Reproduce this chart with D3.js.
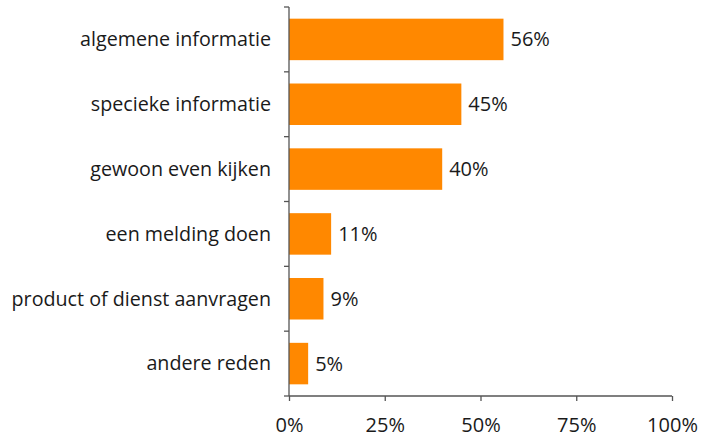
<!DOCTYPE html>
<html lang="en">
<head>
    <meta charset="UTF-8">
    <script src="https://cdn.jsdelivr.net/npm/d3@7"></script>
    <title>Redenen bezoek</title>
    <style>
        body { margin: 0; background: #fff; }
        svg text { font-family: "Open Sans", sans-serif; fill: #1a1a1a; }
        .axis path, .axis line { stroke: #555; stroke-width: 1.3px; }
    </style>
</head>
<body>
    <div id="chart"></div>
    <script>
        const categories = ["algemene informatie", "specieke informatie", "gewoon even kijken",
            "een melding doen", "product of dienst aanvragen", "andere reden"];
        const values = [56, 45, 40, 11, 9, 5];
        const tickValues = [0, 25, 50, 75, 100];

        const width = 701, height = 438;
        const margin = { top: 7, right: 29, bottom: 42, left: 289 };

        const svg = d3.select("#chart").append("svg")
            .attr("width", width)
            .attr("height", height);

        const x = d3.scaleLinear().domain([0, 100]).range([margin.left, width - margin.right]);
        const y = d3.scaleBand().domain(categories)
            .range([margin.top, height - margin.bottom])
            .paddingInner(0.36).paddingOuter(0.18);

        // bars
        svg.selectAll("rect.bar")
            .data(values)
            .enter()
            .append("rect")
            .attr("class", "bar")
            .attr("x", x(0))
            .attr("y", (d, i) => y(categories[i]))
            .attr("width", d => x(d) - x(0))
            .attr("height", y.bandwidth())
            .attr("fill", "#ff8800");

        // value labels
        svg.selectAll("text.val")
            .data(values)
            .enter()
            .append("text")
            .attr("class", "val")
            .attr("x", d => x(d) + 7)
            .attr("y", (d, i) => y(categories[i]) + y.bandwidth() / 2)
            .attr("dy", "0.35em")
            .style("font-size", "20px")
            .text(d => d + "%");

        // y axis with ticks on category boundaries
        const yAxisG = svg.append("g").attr("class", "axis");
        const boundaries = d3.range(categories.length + 1).map(i => margin.top + i * (height - margin.bottom - margin.top) / categories.length);
        yAxisG.append("line")
            .attr("x1", x(0)).attr("x2", x(0))
            .attr("y1", boundaries[0]).attr("y2", boundaries[boundaries.length - 1]);
        yAxisG.selectAll("line.tick")
            .data(boundaries)
            .enter()
            .append("line")
            .attr("class", "tick")
            .attr("x1", x(0) - 5).attr("x2", x(0))
            .attr("y1", d => d).attr("y2", d => d);

        // category labels
        svg.selectAll("text.cat")
            .data(categories)
            .enter()
            .append("text")
            .attr("class", "cat")
            .attr("x", x(0) - 18)
            .attr("y", d => y(d) + y.bandwidth() / 2)
            .attr("dy", "0.35em")
            .attr("text-anchor", "end")
            .style("font-size", "19.7px")
            .text(d => d);

        // x axis
        const xAxis = d3.axisBottom(x)
            .tickValues(tickValues)
            .tickSize(5)
            .tickPadding(17)
            .tickFormat(d => d + "%");
        const xg = svg.append("g")
            .attr("class", "axis")
            .attr("transform", `translate(0,${height - margin.bottom})`)
            .call(xAxis);
        xg.select(".domain").attr("d", `M${x(0)},0H${x(100)}`);
        xg.selectAll("text").style("font-size", "20px").attr("fill", "#1a1a1a");
    </script>
</body>
</html>
